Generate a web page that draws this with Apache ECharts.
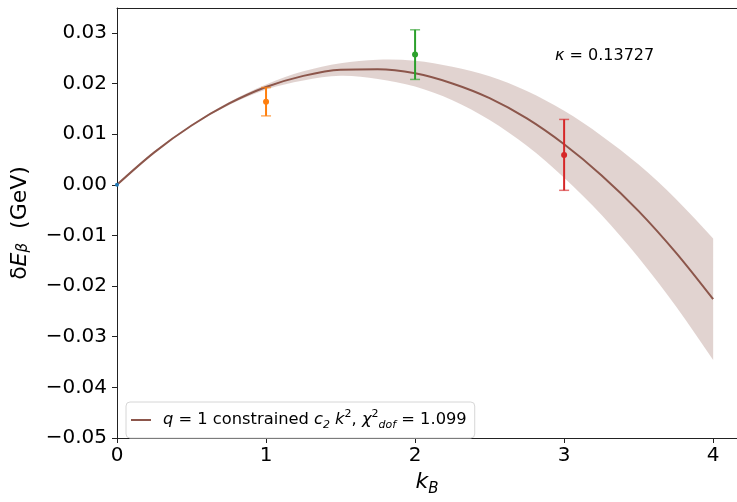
<!DOCTYPE html>
<html><head><meta charset="utf-8">
<script src="https://cdn.jsdelivr.net/npm/echarts@6/dist/echarts.min.js"></script>
<style>html,body{margin:0;padding:0;background:#fff}#c{width:737px;height:502px}</style>
</head><body><div id="c"></div>
<script>
const kGrid      = [0, 0.25, 0.5, 0.75, 1, 1.25, 1.5, 1.75, 2, 2.25, 2.5, 2.75, 3, 3.25, 3.5, 3.75, 4];
const fitCenter  = [0, 0.0064, 0.0117, 0.0160, 0.0193, 0.0215, 0.02272, 0.02282, 0.0220, 0.0200, 0.0171, 0.0131, 0.0080, 0.0019, -0.0052, -0.0134, -0.0226];
const fitUpper   = [0, 0.0065, 0.0118, 0.0163, 0.0198, 0.0224, 0.0240, 0.0247, 0.0245, 0.0233, 0.0214, 0.0185, 0.0146, 0.0097, 0.0040, -0.0028, -0.0106];
const fitLower   = [0, 0.0063, 0.0116, 0.0157, 0.0188, 0.0206, 0.0215, 0.0209, 0.0194, 0.0167, 0.0128, 0.0077, 0.0014, -0.0059, -0.0144, -0.0240, -0.0346];
const pointK     = [0, 1, 2, 3];
const pointVal   = [0, 0.0164, 0.0257, 0.0059];
const pointErr   = [0, 0.0028, 0.0049, 0.0070];
const pointColors = ['#1f77b4', '#ff7f0e', '#2ca02c', '#d62728'];
const xTicks = [0, 1, 2, 3, 4];
const yTicks = [-0.05, -0.04, -0.03, -0.02, -0.01, 0, 0.01, 0.02, 0.03];
const fitName = 'fit';
const kappaValue = '0.13727';

const FONT = 'DejaVu Sans';
const chart = echarts.init(document.getElementById('c'), null, {renderer: 'canvas'});

const fmtY = v => (v < -1e-9 ? '\u2212' : '') + Math.abs(v).toFixed(2);

const option = {
  animation: false,
  textStyle: {fontFamily: FONT},
  grid: {left: 117, right: 0, top: 8, bottom: 59},
  xAxis: [{
    type: 'value', min: 0, max: 4.16, interval: 1,
    name: '{i|k}{sub|B}', nameLocation: 'middle', nameGap: 33,
    nameTextStyle: {fontFamily: FONT, fontSize: 22, color: '#000',
      rich: {i: {fontFamily: FONT, fontSize: 22, fontStyle: 'italic', color: '#000', lineHeight: 26, verticalAlign: 'top'},
             sub: {fontFamily: FONT, fontSize: 15, fontStyle: 'italic', color: '#000', verticalAlign: 'bottom', lineHeight: 15}}},
    axisLine: {show: true, onZero: false, lineStyle: {color: '#222', width: 1}},
    axisTick: {show: true, length: 5, inside: false, customValues: xTicks, lineStyle: {color: '#222'}},
    axisLabel: {customValues: xTicks, fontFamily: FONT, fontSize: 20, color: '#000', margin: 8},
    splitLine: {show: false}
  }, {
    type: 'value', position: 'top', min: 0, max: 4.16,
    axisLine: {show: true, onZero: false, lineStyle: {color: '#222', width: 1}},
    axisTick: {show: false}, axisLabel: {show: false}, splitLine: {show: false}
  }],
  yAxis: {
    type: 'value', min: -0.05, max: 0.0349, interval: 0.01,
    name: 'δ{i|E}{sub|β}  (GeV)', nameLocation: 'middle', nameGap: 86, nameRotate: 90,
    nameTextStyle: {fontFamily: FONT, fontSize: 22, color: '#000',
      rich: {i: {fontFamily: FONT, fontSize: 22, fontStyle: 'italic', color: '#000'},
             sub: {fontFamily: FONT, fontSize: 15, fontStyle: 'italic', color: '#000', verticalAlign: 'bottom'}}},
    axisLine: {show: true, onZero: false, lineStyle: {color: '#222', width: 1}},
    axisTick: {show: true, length: 5, customValues: yTicks, lineStyle: {color: '#222'}},
    axisLabel: {customValues: yTicks, formatter: fmtY, fontFamily: FONT, fontSize: 20, color: '#000', margin: 10},
    splitLine: {show: false}
  },
  legend: {
    data: [fitName], left: 126, top: 402, orient: 'horizontal',
    backgroundColor: '#fff', borderColor: '#d6d6d6', borderWidth: 1, borderRadius: 4,
    padding: [7, 8, 7, 5],
    icon: 'rect', itemWidth: 20, itemHeight: 2,
    formatter: () => '{i|q} = 1 constrained {i|c}{sub|2}{i| k}{sup|2}, {i|χ}{sup|2}{sub|dof} = 1.099',
    textStyle: {fontFamily: FONT, fontSize: 16.3, color: '#000', padding: [0, 0, 0, 7], lineHeight: 22,
      rich: {
        i: {fontFamily: FONT, fontSize: 16.3, fontStyle: 'italic', color: '#000', lineHeight: 22},
        sub: {fontFamily: FONT, fontSize: 11, fontStyle: 'italic', color: '#000', verticalAlign: 'bottom', lineHeight: 11},
        sup: {fontFamily: FONT, fontSize: 11, color: '#000', verticalAlign: 'top', lineHeight: 11}
      }}
  },
  graphic: [{
    type: 'text', left: 555, top: 48,
    style: {
      text: '{i|κ} = ' + kappaValue,
      font: '16px "DejaVu Sans"', fill: '#000',
      rich: {i: {font: 'italic 16px "DejaVu Sans"', fill: '#000'}}
    }
  }],
  series: [
    {
      name: 'band', type: 'custom',
      data: [[0, 0]],
      renderItem: (params, api) => {
        const n = kGrid.length;
        const pts = [];
        for (let i = 0; i < n; i++) pts.push(api.coord([kGrid[i], fitUpper[i]]));
        pts.push(api.coord([kGrid[n - 1], fitUpper[n - 1]]));
        pts.push(api.coord([kGrid[n - 1], fitLower[n - 1]]));
        for (let i = n - 1; i >= 0; i--) pts.push(api.coord([kGrid[i], fitLower[i]]));
        return {type: 'polygon', shape: {points: pts, smooth: 0.33}, style: {fill: 'rgba(140,86,75,0.26)'}, silent: true};
      },
      silent: true, z: 1
    },
    {
      name: fitName, type: 'line',
      data: kGrid.map((k, i) => [k, fitCenter[i]]),
      symbol: 'none', smooth: 0.33, color: '#8c564b',
      lineStyle: {color: '#8c564b', width: 2}, z: 3
    },
    {
      name: 'points', type: 'custom',
      data: pointK.map((k, i) => [k, pointVal[i], pointErr[i], i]),
      renderItem: (params, api) => {
        const x = api.value(0), y = api.value(1), e = api.value(2), idx = api.value(3);
        const c = pointColors[idx];
        const pTop = api.coord([x, y + e]);
        const pBot = api.coord([x, y - e]);
        const pMid = api.coord([x, y]);
        const cap = 5;
        const children = [];
        if (e > 0) {
          children.push({type: 'line', shape: {x1: pTop[0], y1: pTop[1], x2: pBot[0], y2: pBot[1]}, style: {stroke: c, lineWidth: 2}});
          children.push({type: 'line', shape: {x1: pTop[0] - cap, y1: pTop[1], x2: pTop[0] + cap, y2: pTop[1]}, style: {stroke: c, lineWidth: 1.5, opacity: 0.65}});
          children.push({type: 'line', shape: {x1: pBot[0] - cap, y1: pBot[1], x2: pBot[0] + cap, y2: pBot[1]}, style: {stroke: c, lineWidth: 1.5, opacity: 0.65}});
        }
        children.push({type: 'circle', shape: {cx: pMid[0], cy: pMid[1], r: e > 0 ? 3 : 2}, style: {fill: c}});
        return {type: 'group', children};
      },
      z: 4
    }
  ]
};
chart.setOption(option);
</script>
</body></html>
